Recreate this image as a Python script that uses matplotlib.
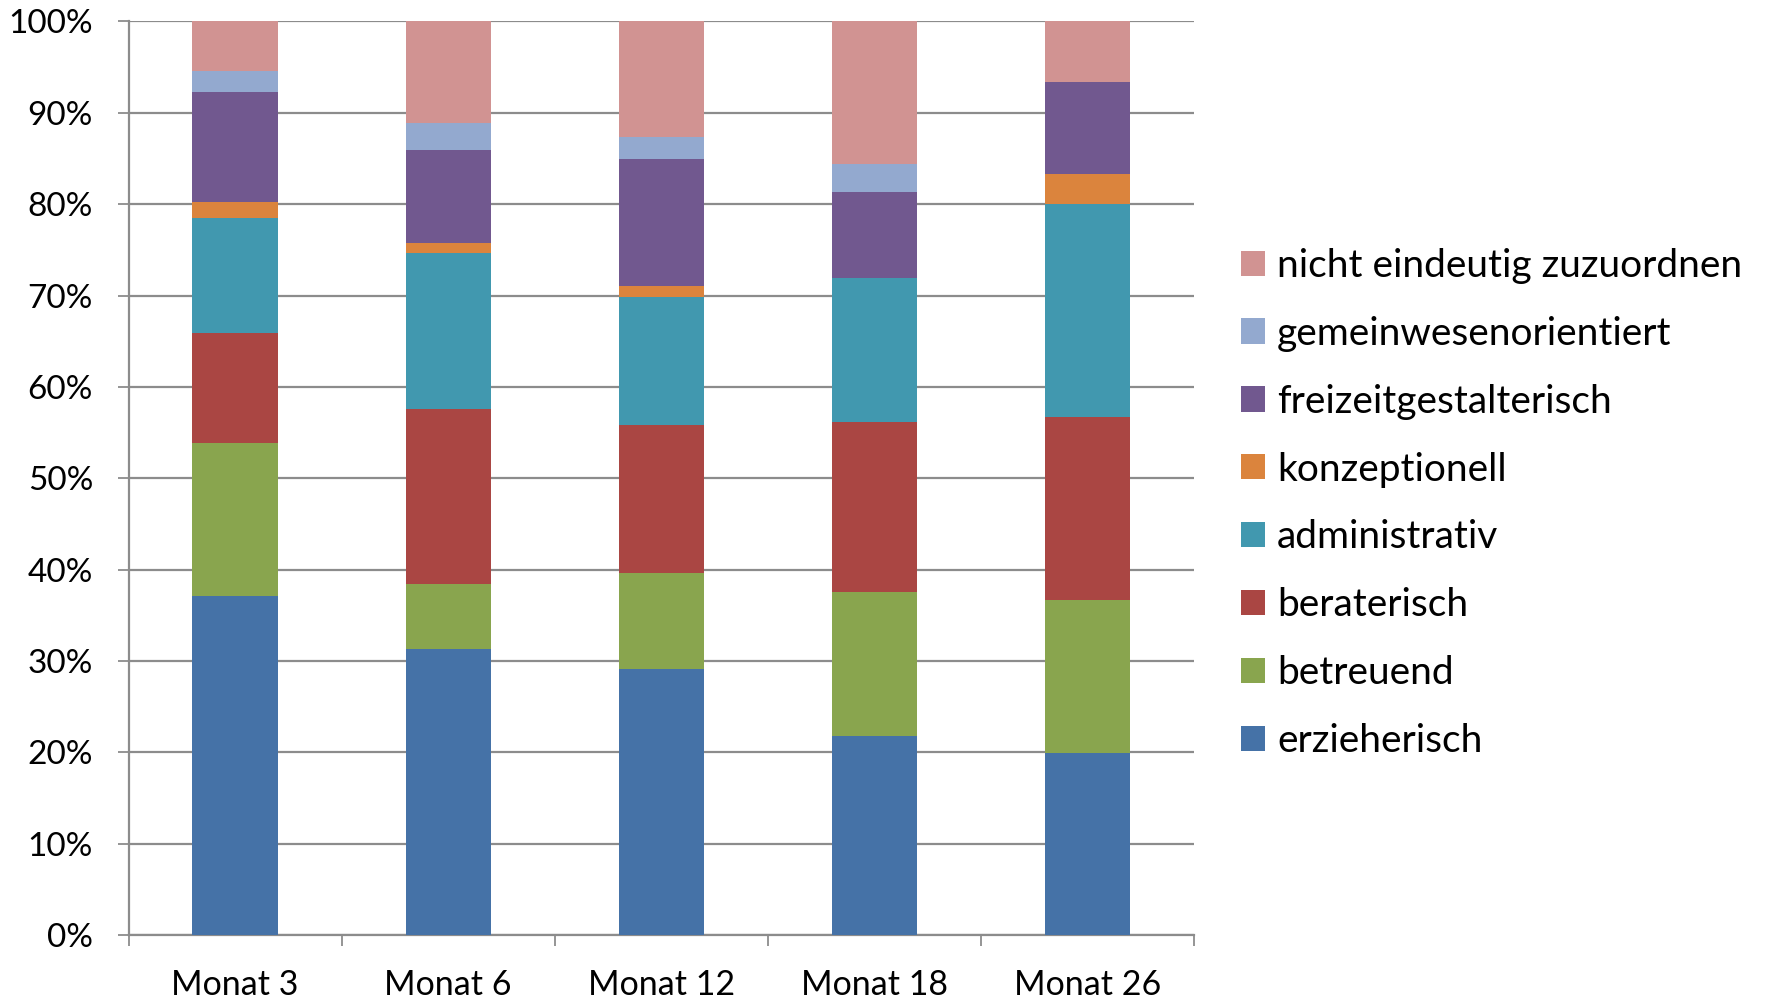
import matplotlib
matplotlib.use("Agg")
import matplotlib.pyplot as plt
import numpy as np
from matplotlib.patches import Patch
from matplotlib.ticker import FixedLocator, PercentFormatter

plt.rcParams['font.family'] = ['Lato', 'DejaVu Sans']

categories = ["Monat 3", "Monat 6", "Monat 12", "Monat 18", "Monat 26"]
series_names = ["erzieherisch", "betreuend", "beraterisch", "administrativ",
                "konzeptionell", "freizeitgestalterisch", "gemeinwesenorientiert",
                "nicht eindeutig zuzuordnen"]
erzieherisch = [37.1, 31.3, 29.1, 21.8, 19.9]
betreuend = [16.8, 7.1, 10.5, 15.7, 16.8]
beraterisch = [12.0, 19.2, 16.2, 18.7, 20.0]
administrativ = [12.6, 17.1, 14.0, 15.7, 23.3]
konzeptionell = [1.7, 1.1, 1.2, 0.0, 3.3]
freizeitgestalterisch = [12.1, 10.1, 13.9, 9.4, 10.1]
gemeinwesenorientiert = [2.3, 3.0, 2.4, 3.1, 0.0]
nicht_eindeutig = [5.4, 11.1, 12.7, 15.6, 6.6]
y_ticks = [0, 10, 20, 30, 40, 50, 60, 70, 80, 90, 100]

series = [erzieherisch, betreuend, beraterisch, administrativ, konzeptionell,
          freizeitgestalterisch, gemeinwesenorientiert, nicht_eindeutig]
colors = ["#4572A7", "#89A54E", "#AA4643", "#4198AF", "#DB843D",
          "#71588F", "#93A9CF", "#D19392"]

fig = plt.figure(figsize=(17.68, 10.01), dpi=100)
ax = fig.add_axes([0.0727, 0.0659, 0.6026, 0.9127])

x = np.arange(len(categories))
bottom = np.zeros(len(categories))
for vals, c in zip(series, colors):
    v = np.array(vals)
    ax.bar(x, v, 0.4, bottom=bottom, color=c, edgecolor='none', zorder=3)
    bottom += v

ax.set_xlim(-0.5, len(categories) - 0.5)
ax.set_ylim(0, 100)
ax.set_yticks(y_ticks)
ax.yaxis.set_major_formatter(PercentFormatter(decimals=0))
ax.grid(axis='y', color='#8c8c8c', linewidth=1.6, zorder=0)
ax.set_xticks(x)
ax.set_xticklabels(categories)
ax.xaxis.set_minor_locator(FixedLocator(np.arange(-0.5, len(categories), 1.0)))
ax.tick_params(axis='x', which='major', length=0, pad=24.5, labelsize=24.5)
ax.tick_params(axis='x', which='minor', length=8, width=1.3, color='#8c8c8c')
ax.tick_params(axis='y', length=8, width=1.3, color='#8c8c8c', pad=17.5, labelsize=24)
for s in ['top', 'right']:
    ax.spines[s].set_visible(False)
for s in ['left', 'bottom']:
    ax.spines[s].set_color('#8c8c8c')
    ax.spines[s].set_linewidth(1.6)

handles = [Patch(facecolor=c, edgecolor='none') for c in colors][::-1]
labels = series_names[::-1]
fig.legend(handles, labels, loc='center left', bbox_to_anchor=(0.702, 0.497),
           frameon=False, fontsize=28, handlelength=0.62, handleheight=0.62,
           handletextpad=0.3, labelspacing=0.82, borderpad=0, borderaxespad=0)

fig.savefig("out.png", dpi=100)
